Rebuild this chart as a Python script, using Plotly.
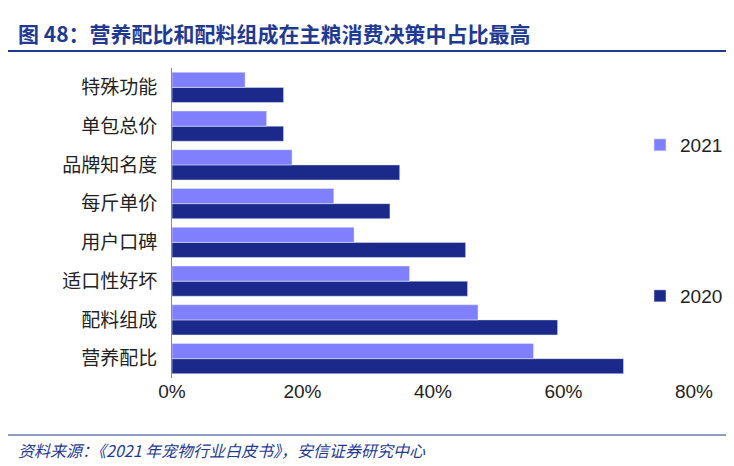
import plotly.graph_objects as go

categories = ["营养配比", "配料组成", "适口性好坏", "用户口碑", "每斤单价", "品牌知名度", "单包总价", "特殊功能"]
v2020 = [69.2, 59.1, 45.3, 45.0, 33.4, 34.9, 17.1, 17.1]
v2021 = [55.4, 46.9, 36.4, 27.9, 24.8, 18.4, 14.5, 11.2]
ticks = [0, 20, 40, 60, 80]
tick_text = ["0%", "20%", "40%", "60%", "80%"]

fig = go.Figure()
fig.add_trace(go.Bar(y=categories, x=v2020, orientation="h", name="2020",
                     marker_color="#1B2A8A", legend="legend2"))
fig.add_trace(go.Bar(y=categories, x=v2021, orientation="h", name="2021",
                     marker_color="#8080FF", legend="legend"))

font = "Noto Sans CJK SC"
L, R, T, B = 164, 48, 60, 96
W, H = 734, 466
pw, ph = W - L - R, H - T - B
px = lambda x: (x - L) / pw
py = lambda y: (H - B - y) / ph

fig.update_layout(
    width=W, height=H, paper_bgcolor="white", plot_bgcolor="white",
    margin=dict(l=L, r=R, t=T, b=B, autoexpand=False),
    barmode="group", bargap=0.22, bargroupgap=0,
    font=dict(family=font, size=19, color="#222"),
    xaxis=dict(range=[0, 80], tickvals=ticks, ticktext=tick_text, showgrid=False, automargin=False,
               zeroline=False, showline=False, ticks="", tickfont=dict(size=19, family="Liberation Sans")),
    yaxis=dict(showline=True, linecolor="#888", linewidth=1, ticks="", ticklabelstandoff=10, automargin=False),
    legend=dict(x=px(720), y=py(137), xanchor="right", yanchor="middle", font=dict(size=19, family="Liberation Sans"), bgcolor="rgba(0,0,0,0)"),
    legend2=dict(x=px(720), y=py(288), xanchor="right", yanchor="middle", font=dict(size=19, family="Liberation Sans"), bgcolor="rgba(0,0,0,0)"),
    showlegend=True,
)
fig.add_annotation(x=px(8), y=py(25), xref="paper", yref="paper", xanchor="left", yanchor="middle",
                   text="<b>图 48：营养配比和配料组成在主粮消费决策中占比最高</b>", showarrow=False,
                   font=dict(size=21, color="#1F3A93", family=font))
fig.add_shape(type="line", xref="paper", yref="paper", x0=px(0), x1=px(734), y0=py(43), y1=py(43),
              line=dict(color="#1F3A93", width=2))
fig.add_shape(type="line", xref="paper", yref="paper", x0=px(0), x1=px(734), y0=py(427), y1=py(427),
              line=dict(color="#1F3A93", width=1))
fig.add_annotation(x=px(8), y=py(442), xref="paper", yref="paper", xanchor="left", yanchor="middle",
                   text="<i>资料来源：《2021 年宠物行业白皮书》，安信证券研究中心</i>", showarrow=False,
                   font=dict(size=16, color="#1F3A93", family=font))
fig.write_html("out.html")
